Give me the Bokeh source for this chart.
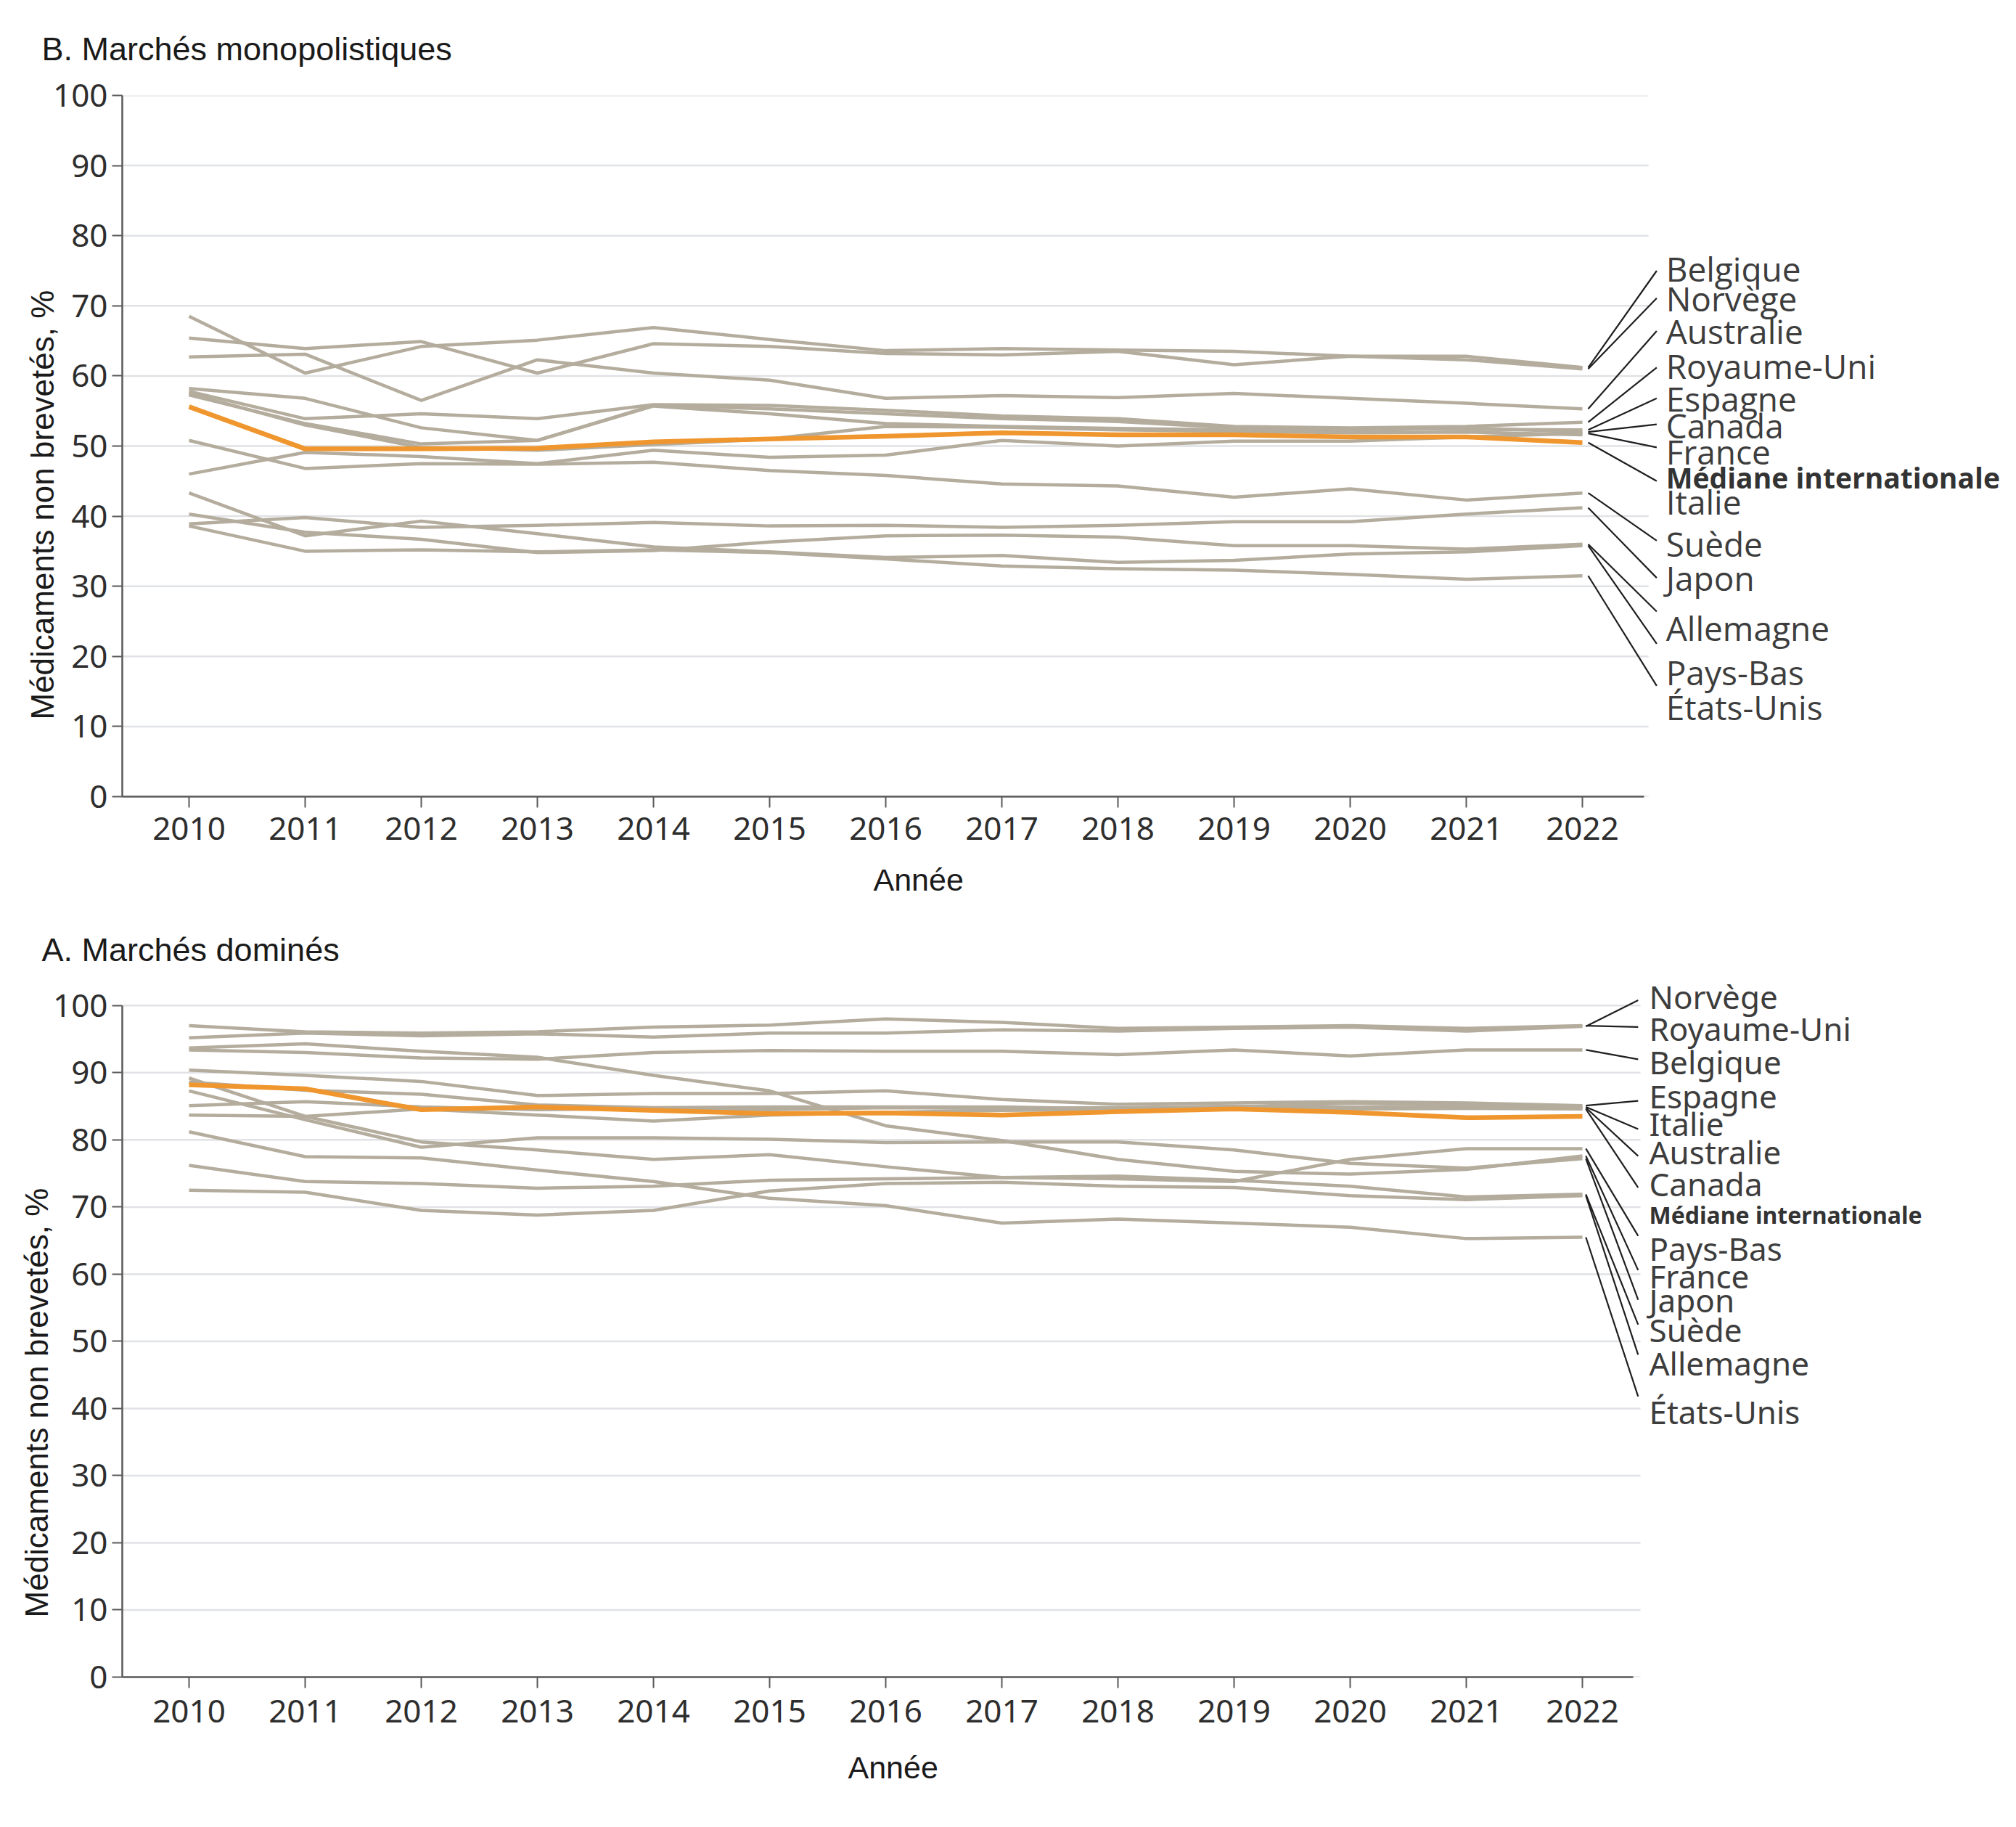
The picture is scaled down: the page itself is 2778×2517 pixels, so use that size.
import numpy as np
from bokeh.plotting import figure
from bokeh.models import FixedTicker, Range1d, Title
from bokeh.layouts import column
from bokeh.embed import file_html
from bokeh.resources import INLINE
from bokeh.core.properties import value

# ---------------- data ----------------
years = list(range(2010, 2023))
y_ticks = list(range(0, 101, 10))

# B. Marchés monopolistiques
belgique_B    = [68.5, 60.4, 64.2, 65.1, 66.9, 65.2, 63.6, 63.9, 63.7, 63.5, 62.8, 62.8, 61.2]
norvege_B     = [65.4, 63.9, 64.9, 60.4, 64.6, 64.2, 63.2, 63.0, 63.5, 61.6, 62.8, 62.3, 61.0]
australie_B   = [62.7, 63.1, 56.5, 62.3, 60.4, 59.4, 56.8, 57.2, 56.9, 57.5, 56.8, 56.1, 55.3]
royaume_uni_B = [57.8, 53.9, 54.6, 53.9, 55.9, 55.8, 55.1, 54.3, 53.9, 52.8, 52.6, 52.8, 53.4]
espagne_B     = [58.2, 56.8, 52.6, 50.8, 55.8, 55.3, 54.6, 53.9, 53.5, 52.6, 52.5, 52.4, 52.3]
canada_B      = [57.3, 53.2, 50.3, 50.8, 55.7, 54.6, 53.2, 52.8, 52.5, 52.3, 52.2, 52.6, 52.0]
france_B      = [46.0, 49.1, 48.5, 47.5, 49.4, 48.4, 48.7, 50.8, 50.0, 50.7, 50.7, 51.3, 51.8]
italie_B      = [57.5, 53.0, 49.8, 49.4, 50.2, 51.0, 52.8, 52.7, 52.3, 52.1, 51.9, 52.0, 51.6]
suede_B       = [50.8, 46.8, 47.5, 47.4, 47.7, 46.5, 45.8, 44.6, 44.3, 42.7, 43.9, 42.3, 43.3]
japon_B       = [38.9, 39.8, 38.4, 38.7, 39.1, 38.6, 38.7, 38.4, 38.7, 39.2, 39.2, 40.3, 41.2]
allemagne_B   = [40.3, 37.7, 36.7, 34.8, 35.1, 36.3, 37.2, 37.3, 37.0, 35.8, 35.8, 35.3, 36.0]
pays_bas_B    = [43.3, 37.2, 39.3, 37.5, 35.6, 34.9, 34.1, 34.4, 33.4, 33.7, 34.6, 34.9, 35.8]
etats_unis_B  = [38.6, 35.0, 35.2, 34.9, 35.2, 34.8, 33.9, 32.9, 32.5, 32.3, 31.7, 31.0, 31.5]
mediane_B     = [55.6, 49.6, 49.6, 49.7, 50.6, 51.0, 51.4, 51.9, 51.6, 51.6, 51.3, 51.3, 50.5]

# A. Marchés dominés
norvege_A     = [95.2, 95.9, 95.5, 95.8, 95.3, 95.9, 95.9, 96.4, 96.2, 96.6, 96.8, 96.2, 96.9]
royaume_uni_A = [97.0, 96.1, 95.9, 96.1, 96.8, 97.1, 98.0, 97.5, 96.6, 96.8, 97.0, 96.6, 97.0]
belgique_A    = [93.4, 93.0, 92.2, 92.0, 93.0, 93.3, 93.2, 93.2, 92.7, 93.4, 92.5, 93.4, 93.4]
espagne_A     = [90.4, 89.6, 88.7, 86.6, 86.9, 86.9, 87.3, 86.0, 85.3, 85.5, 85.7, 85.5, 85.1]
italie_A      = [88.6, 87.4, 86.8, 85.2, 84.8, 84.9, 84.9, 84.9, 84.6, 84.9, 85.5, 85.1, 84.9]
australie_A   = [85.1, 85.7, 84.9, 84.5, 84.7, 84.5, 84.8, 84.7, 84.8, 85.0, 84.9, 84.8, 84.8]
canada_A      = [83.7, 83.5, 84.6, 83.7, 82.8, 83.7, 84.1, 84.4, 84.5, 84.8, 84.6, 84.7, 84.6]
pays_bas_A    = [89.2, 83.5, 79.7, 78.5, 77.1, 77.8, 76.0, 74.4, 74.2, 73.8, 77.1, 78.7, 78.7]
france_A      = [93.7, 94.3, 93.2, 92.3, 89.6, 87.3, 82.1, 79.9, 77.1, 75.3, 74.9, 75.6, 77.6]
japon_A       = [87.3, 83.0, 78.9, 80.3, 80.3, 80.1, 79.6, 79.7, 79.7, 78.5, 76.5, 75.8, 77.2]
suede_A       = [76.2, 73.8, 73.5, 72.8, 73.1, 74.0, 74.2, 74.4, 74.6, 74.0, 73.1, 71.5, 71.9]
allemagne_A   = [72.5, 72.2, 69.5, 68.8, 69.5, 72.4, 73.5, 73.7, 73.1, 72.9, 71.7, 71.1, 71.7]
etats_unis_A  = [81.2, 77.5, 77.3, 75.5, 73.8, 71.3, 70.2, 67.6, 68.2, 67.6, 67.0, 65.3, 65.5]
mediane_A     = [88.2, 87.6, 84.5, 84.9, 84.4, 83.9, 84.0, 83.7, 84.2, 84.6, 84.1, 83.3, 83.5]

MEDIANE = "Médiane internationale"

series_B = {
    "Belgique": belgique_B, "Norvège": norvege_B, "Australie": australie_B,
    "Royaume-Uni": royaume_uni_B, "Espagne": espagne_B, "Canada": canada_B,
    "France": france_B, "Italie": italie_B, "Suède": suede_B, "Japon": japon_B,
    "Allemagne": allemagne_B, "Pays-Bas": pays_bas_B, "États-Unis": etats_unis_B,
}
series_A = {
    "Norvège": norvege_A, "Royaume-Uni": royaume_uni_A, "Belgique": belgique_A,
    "Espagne": espagne_A, "Italie": italie_A, "Australie": australie_A,
    "Canada": canada_A, "Pays-Bas": pays_bas_A, "France": france_A,
    "Japon": japon_A, "Suède": suede_A, "Allemagne": allemagne_A,
    "États-Unis": etats_unis_A,
}

# label placement (order, label y, leader end y) -- layout, not data
labels_B = ["Belgique", "Norvège", "Australie", "Royaume-Uni", "Espagne", "Canada",
            "France", MEDIANE, "Italie", "Suède", "Japon", "Allemagne", "Pays-Bas", "États-Unis"]
label_y_B = [75.3, 71.1, 66.4, 61.4, 56.8, 52.9, 49.2, 45.6, 42.1, 36.1, 31.2, 24.1, 17.8, 12.8]
leader_y_B = [75.0, 71.1, 66.4, 61.2, 56.8, 53.1, 49.8, 45.0, None, 36.5, 31.2, 26.4, 21.8, 15.8]

labels_A = ["Norvège", "Royaume-Uni", "Belgique", "Espagne", "Italie", "Australie", "Canada",
            MEDIANE, "Pays-Bas", "France", "Japon", "Suède", "Allemagne", "États-Unis"]
label_y_A = [101.3, 96.6, 91.6, 86.5, 82.4, 78.2, 73.5, 68.8, 63.8, 59.7, 56.1, 51.7, 46.8, 39.5]
leader_y_A = [100.8, 96.8, 92.0, 85.8, 81.6, 77.6, 72.9, None, 65.7, 60.6, 56.2, 52.5, 48.0, 41.8]

GRAY = "#b4ac9d"
ORANGE = "#f0962e"
GRID = "#e0e2e5"
AXIS = "#5a5a5a"
TXT = "#3d3d3d"
TITLE_COL = "#1a1a1a"
BORDER_LEFT = 168


def panel(title, series, median, labels, label_y, leader_y, *, fig_h, border_top,
          border_bottom, x_start, y_end, axis_end, grid_end, tick_standoff,
          label_x, lead_x0, lead_x1, lab_font, lab_size, med_size,
          title_offset, title_standoff, xlab_offset, xlab_standoff,
          ylab_offset, ylab_standoff):
    W = 2762
    frame_w = W - BORDER_LEFT
    x_end = x_start + frame_w / 160.0
    p = figure(width=W, height=fig_h, output_backend="svg", toolbar_location=None,
               x_range=Range1d(x_start, x_end), y_range=Range1d(0, y_end),
               min_border_left=BORDER_LEFT, min_border_right=0,
               min_border_top=border_top, min_border_bottom=border_bottom,
               title=None)
    p.outline_line_color = None
    p.background_fill_color = "white"
    p.border_fill_color = "white"
    p.xgrid.grid_line_color = None
    p.ygrid.grid_line_color = None

    # gridlines
    p.multi_line(xs=[[x_start, grid_end] for _ in y_ticks], ys=[[t, t] for t in y_ticks],
                 line_color=GRID, line_width=2.5)

    # axes
    for ax in (p.xaxis[0], p.yaxis[0]):
        ax.axis_line_color = AXIS
        ax.axis_line_width = 2.5
        ax.major_tick_line_color = AXIS
        ax.major_tick_line_width = 2
        ax.major_tick_in = 0
        ax.minor_tick_line_color = None
        ax.major_label_text_font = "Noto Sans"
        ax.major_label_text_font_size = "44px"
        ax.major_label_text_color = "#2e2e2e"
    p.xaxis.ticker = FixedTicker(ticks=years)
    p.xaxis.bounds = (x_start, axis_end)
    p.xaxis.major_tick_out = 15
    p.xaxis.major_label_standoff = tick_standoff
    p.yaxis.ticker = FixedTicker(ticks=y_ticks)
    p.yaxis.bounds = (0, 100)
    p.yaxis.major_tick_out = 14
    p.yaxis.major_label_standoff = 6

    # series
    for name, vals in series.items():
        p.line(years, vals, line_color=GRAY, line_width=4.5, line_join="round")
    p.line(years, median, line_color=ORANGE, line_width=6.5, line_join="round")

    # leaders and labels
    ends = dict((k, v[-1]) for k, v in series.items())
    ends[MEDIANE] = median[-1]
    x0s, y0s, x1s, y1s = [], [], [], []
    for lab, ly in zip(labels, leader_y):
        if ly is None:
            continue
        x0s.append(lead_x0); y0s.append(ends[lab])
        x1s.append(lead_x1); y1s.append(ly)
    p.segment(x0=x0s, y0=y0s, x1=x1s, y1=y1s, line_color="#1f1f1f", line_width=2.2)

    norm = [(l, y) for l, y in zip(labels, label_y) if l != MEDIANE]
    p.text(x=[label_x] * len(norm), y=[y for _, y in norm], text=[l for l, _ in norm],
           text_font=value(lab_font), text_font_size=value(lab_size),
           text_color=TXT, text_align="left", text_baseline="middle")
    my = label_y[labels.index(MEDIANE)]
    p.text(x=[label_x], y=[my], text=[MEDIANE], text_font=value(lab_font),
           text_font_size=value(med_size), text_font_style="bold",
           text_color="#333333", text_align="left", text_baseline="middle")

    # title and axis titles
    p.add_layout(Title(text=title, align="left", offset=title_offset, standoff=title_standoff,
                       text_font="Liberation Sans", text_font_size="45px",
                       text_font_style="normal", text_color=TITLE_COL), "above")
    p.add_layout(Title(text="Année", align="left", offset=xlab_offset, standoff=xlab_standoff,
                       text_font="Liberation Sans", text_font_size="43px",
                       text_font_style="normal", text_color=TITLE_COL), "below")
    p.add_layout(Title(text="Médicaments non brevetés, %", align="left", offset=ylab_offset,
                       standoff=ylab_standoff, text_font="Liberation Sans",
                       text_font_size="44px", text_font_style="normal",
                       text_color=TITLE_COL), "left")
    return p


pB = panel("B. Marchés monopolistiques", series_B, mediane_B, labels_B, label_y_B, leader_y_B,
           fig_h=1262, border_top=128, border_bottom=165,
           x_start=2009.425, y_end=100, axis_end=2022.53, grid_end=2022.57, tick_standoff=13,
           label_x=2022.72, lead_x0=2022.05, lead_x1=2022.64,
           lab_font="Open Sans", lab_size="46px", med_size="39px",
           title_offset=-111, title_standoff=78, xlab_offset=1035, xlab_standoff=53,
           ylab_offset=106, ylab_standoff=-27)

pA = panel("A. Marchés  dominés", series_A, mediane_A, labels_A, label_y_A, leader_y_A,
           fig_h=1239, border_top=86, border_bottom=191,
           x_start=2009.425, y_end=103.55, axis_end=2022.44, grid_end=2022.5, tick_standoff=16,
           label_x=2022.575, lead_x0=2022.03, lead_x1=2022.48,
           lab_font="Noto Sans", lab_size="44px", med_size="32px",
           title_offset=-111, title_standoff=37, xlab_offset=1000, xlab_standoff=66,
           ylab_offset=82, ylab_standoff=-11)

layout = column(pB, pA, spacing=0)
open("out.html", "w").write(file_html(layout, INLINE))
